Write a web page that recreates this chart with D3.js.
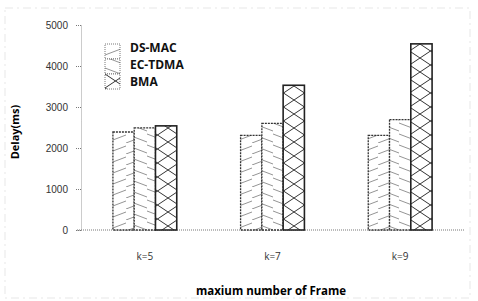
<!DOCTYPE html>
<html>
<head>
<meta charset="utf-8">
<script src="https://cdn.jsdelivr.net/npm/d3@7"></script>
<style>
  body { margin: 0; background: #fff; }
  svg { display: block; font-family: "Open Sans", "DejaVu Sans", sans-serif; }
  .tick text { font-size: 10px; fill: #333; }
</style>
</head>
<body>
<svg id="chart"></svg>
<script>
/* DATA */
var groups = ["k=5", "k=7", "k=9"];
var seriesNames = ["DS-MAC", "EC-TDMA", "BMA"];
var dsMac = [2390, 2310, 2310];
var ecTdma = [2490, 2600, 2690];
var bma = [2540, 3530, 4540];
var yTicks = [0, 1000, 2000, 3000, 4000, 5000];

/* SETUP */
var width = 478;
var height = 301;
var plotLeft = 81, plotRight = 464, plotTop = 25, plotBottom = 230;

var svg = d3.select("#chart")
  .attr("width", width)
  .attr("height", height);

var defs = svg.append("defs");

// hatch patterns
var p1 = defs.append("pattern").attr("id", "pat0")
  .attr("patternUnits", "userSpaceOnUse").attr("width", 21).attr("height", 11);
p1.append("rect").attr("width", 21).attr("height", 11).attr("fill", "#fff");
p1.append("path").attr("d", "M0,11 L21,3")
  .attr("stroke", "#888").attr("stroke-width", 0.9).attr("fill", "none");

var p2 = defs.append("pattern").attr("id", "pat1")
  .attr("patternUnits", "userSpaceOnUse").attr("width", 21).attr("height", 11);
p2.append("rect").attr("width", 21).attr("height", 11).attr("fill", "#fff");
p2.append("path").attr("d", "M0,2 L21,10")
  .attr("stroke", "#888").attr("stroke-width", 0.9).attr("fill", "none");

var p3 = defs.append("pattern").attr("id", "pat2")
  .attr("patternUnits", "userSpaceOnUse").attr("width", 21).attr("height", 14)
  .attr("y", 2);
p3.append("rect").attr("width", 21).attr("height", 14).attr("fill", "#fff");
p3.append("path").attr("d", "M0,0 L21,14 M21,0 L0,14")
  .attr("stroke", "#333").attr("stroke-width", 1).attr("fill", "none");

/* FRAME */
svg.append("rect")
  .attr("x", 5).attr("y", 8).attr("width", 465).attr("height", 290)
  .attr("fill", "none").attr("stroke", "#ddd").attr("stroke-width", 0.7)
  .attr("stroke-dasharray", "8,4,2,4");

/* SCALES */
var x = d3.scaleBand().domain(groups).range([plotLeft, plotRight])
  .paddingInner(0.5).paddingOuter(0.25);
var xs = d3.scaleBand().domain(seriesNames).range([0, x.bandwidth()]);
var y = d3.scaleLinear().domain([0, 5000]).range([plotBottom, plotTop]);

/* AXES */
var yAxis = svg.append("g")
  .attr("transform", translate(plotLeft, 0))
  .call(d3.axisLeft(y).tickValues(yTicks).tickFormat(d3.format("d"))
    .tickSize(6).tickPadding(7).tickSizeOuter(0));
yAxis.select(".domain").attr("stroke", "#999").attr("stroke-dasharray", "1,1");
yAxis.selectAll(".tick line").attr("stroke", "#777").attr("stroke-dasharray", "1,1");

svg.append("line")
  .attr("x1", plotLeft - 4).attr("x2", plotRight).attr("y1", plotBottom).attr("y2", plotBottom)
  .attr("stroke", "#777").attr("stroke-dasharray", "1,1");

svg.append("g").selectAll("text")
  .data(groups).enter().append("text")
  .attr("x", d => x(d) + x.bandwidth() / 2)
  .attr("y", 260)
  .attr("text-anchor", "middle")
  .attr("font-size", 10)
  .attr("fill", "#333")
  .text(d => d);

/* BARS */
var series = [dsMac, ecTdma, bma];
series.forEach(function(vals, si) {
  svg.append("g").selectAll("rect")
    .data(vals).enter().append("rect")
    .attr("x", (d, i) => x(groups[i]) + xs(seriesNames[si]))
    .attr("y", d => y(d))
    .attr("width", xs.bandwidth())
    .attr("height", d => plotBottom - y(d))
    .attr("fill", "url(#pat" + si + ")")
    .attr("stroke", si === 2 ? "#222" : "#333")
    .attr("stroke-width", si === 2 ? 1.6 : 1.3)
    .attr("stroke-dasharray", si === 2 ? null : "2,1");
});

/* LEGEND */
var legend = svg.append("g").attr("transform", translate(105, 44));
seriesNames.forEach(function(name, i) {
  legend.append("rect")
    .attr("x", 0).attr("y", i * 15)
    .attr("width", 15).attr("height", 15)
    .attr("fill", "url(#pat" + i + ")")
    .attr("stroke", "#555").attr("stroke-width", 0.8)
    .attr("stroke-dasharray", "1,1");
  legend.append("text")
    .attr("x", 25).attr("y", 8 + i * 17)
    .attr("font-size", 12).attr("font-weight", "bold")
    .attr("fill", "#111")
    .text(name);
});

/* TITLES */
svg.append("text")
  .attr("transform", "translate(19,132) rotate(-90)")
  .attr("text-anchor", "middle")
  .attr("font-size", 11).attr("font-weight", "bold")
  .text("Delay(ms)");

svg.append("text")
  .attr("x", 271).attr("y", 295)
  .attr("text-anchor", "middle")
  .attr("font-size", 11.5).attr("font-weight", "bold")
  .text("maxium number of Frame");

/* HELPER FUNCTION */
function translate(x, y) {
  return 'translate(' + String(x) + ',' + String(y) + ')';
}
</script>
</body>
</html>
